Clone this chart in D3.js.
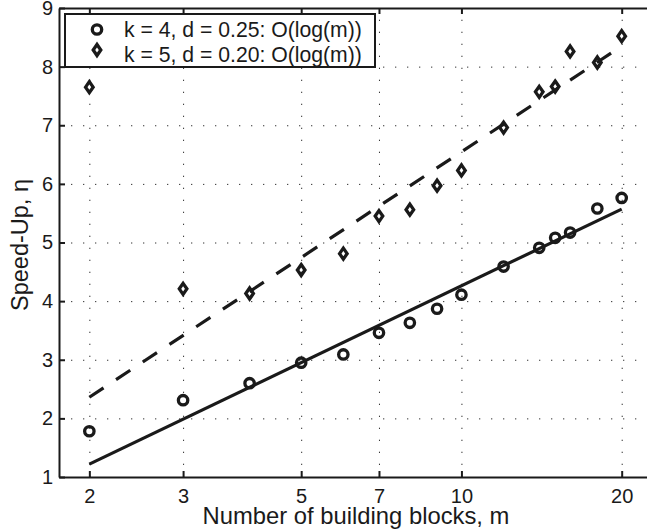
<!DOCTYPE html>
<html>
<head>
<meta charset="utf-8">
<script src="https://cdn.jsdelivr.net/npm/d3@7"></script>
<style>
  body { margin: 0; background: #fff; }
  svg { display: block; font-family: "Liberation Sans", Arial, Helvetica, sans-serif; }
  .grid line { stroke: #333; stroke-width: 1; stroke-dasharray: 1.3,10.7; }
  .grid path { display: none; }
  .axis path, .axis line { stroke: #1a1a1a; stroke-width: 2; }
</style>
</head>
<body>
<div id="chart"></div>
<script>
// number of building blocks m
var blocks = [2, 3, 4, 5, 6, 7, 8, 9, 10, 12, 14, 15, 16, 18, 20];
// k = 4, d = 0.25
var speedK4 = [1.78, 2.31, 2.60, 2.95, 3.09, 3.46, 3.63, 3.87, 4.11, 4.59, 4.91, 5.08, 5.17, 5.58, 5.76];
// k = 5, d = 0.20
var speedK5 = [7.65, 4.21, 4.13, 4.53, 4.81, 5.45, 5.56, 5.97, 6.23, 6.96, 7.57, 7.66, 8.26, 8.07, 8.52];
// O(log(m)) fits, end points at m = 2 and m = 20
var fitBlocks = [2, 20];
var fitK4 = [1.22, 5.57];
var fitK5 = [2.36, 8.35];

var xTicks = [2, 3, 5, 7, 10, 20];
var yTicks = [1, 2, 3, 4, 5, 6, 7, 8, 9];
var legendLabels = ["k = 4, d = 0.25: O(log(m))", "k = 5, d = 0.20: O(log(m))"];

var margin = {top: 8, right: 0, bottom: 54, left: 59},
    width = 595,
    height = 531 - margin.top - margin.bottom;

var x = d3.scaleLog()
    .domain([1.754, 23])
    .range([0, width]);
var y = d3.scaleLinear()
    .domain([1, 9])
    .range([height, 0]);

var svg = d3.select("#chart").append("svg")
    .attr("width", 647)
    .attr("height", 531)
  .append("g")
    .attr("transform", "translate(" + margin.left + "," + margin.top + ")");

// dotted grid
svg.append("g")
    .attr("class", "grid")
    .attr("transform", "translate(0," + height + ")")
    .call(d3.axisBottom(x).tickValues(xTicks).tickSize(-height).tickFormat(""));
svg.append("g")
    .attr("class", "grid")
    .call(d3.axisLeft(y).tickValues(yTicks).tickSize(-width).tickFormat(""));

// axes, ticks pointing inward
svg.append("g")
    .attr("class", "axis")
    .attr("transform", "translate(0," + height + ")")
    .call(d3.axisBottom(x).tickValues(xTicks).tickFormat(d3.format("d"))
      .tickSizeInner(-6).tickSizeOuter(0).tickPadding(12));
svg.append("g")
    .attr("class", "axis")
    .call(d3.axisTop(x).tickValues(xTicks).tickFormat("")
      .tickSizeInner(-6).tickSizeOuter(0));
svg.append("g")
    .attr("class", "axis")
    .call(d3.axisLeft(y).tickValues(yTicks).tickFormat(d3.format("d"))
      .tickSizeInner(-6).tickSizeOuter(0).tickPadding(6));

svg.selectAll(".axis")
    .attr("font-family", null)
    .attr("font-size", "20px");
svg.selectAll(".axis text").attr("fill", "#1a1a1a");

// fit lines
var line = d3.line()
    .x(function(d) { return x(d[0]); })
    .y(function(d) { return y(d[1]); });

svg.append("path")
    .datum(d3.zip(fitBlocks, fitK4))
    .attr("d", line)
    .attr("fill", "none")
    .attr("stroke", "#1a1a1a")
    .attr("stroke-width", 3.2);

svg.append("path")
    .datum(d3.zip(fitBlocks, fitK5))
    .attr("d", line)
    .attr("fill", "none")
    .attr("stroke", "#1a1a1a")
    .attr("stroke-width", 3.2)
    .attr("stroke-dasharray", "17,15");

function diamond(cx, cy) {
  return "M" + cx + "," + (cy - 5.5) + "L" + (cx + 3.8) + "," + cy +
         "L" + cx + "," + (cy + 5.5) + "L" + (cx - 3.8) + "," + cy + "Z";
}

// markers
svg.selectAll(".ptK4")
    .data(d3.zip(blocks, speedK4))
  .enter().append("circle")
    .attr("class", "ptK4")
    .attr("cx", function(d) { return x(d[0]); })
    .attr("cy", function(d) { return y(d[1]); })
    .attr("r", 4.7)
    .attr("fill", "none")
    .attr("stroke", "#1a1a1a")
    .attr("stroke-width", 3.3);

svg.selectAll(".ptK5")
    .data(d3.zip(blocks, speedK5))
  .enter().append("path")
    .attr("class", "ptK5")
    .attr("d", function(d) { return diamond(x(d[0]), y(d[1])); })
    .attr("fill", "none")
    .attr("stroke", "#1a1a1a")
    .attr("stroke-width", 3.3)
    .attr("stroke-linejoin", "miter");

// legend
var legend = svg.append("g")
    .attr("transform", "translate(6,6)");

legend.append("rect")
    .attr("width", 310)
    .attr("height", 53)
    .attr("fill", "#fff")
    .attr("stroke", "#1a1a1a")
    .attr("stroke-width", 2);

legend.append("circle")
    .attr("cx", 32)
    .attr("cy", 15.5)
    .attr("r", 4.7)
    .attr("fill", "none")
    .attr("stroke", "#1a1a1a")
    .attr("stroke-width", 3.3);

legend.append("path")
    .attr("d", diamond(32, 36))
    .attr("fill", "none")
    .attr("stroke", "#1a1a1a")
    .attr("stroke-width", 3.3);

legend.selectAll(".legText")
    .data(legendLabels)
  .enter().append("text")
    .attr("class", "legText")
    .attr("x", 59)
    .attr("y", function(d, i) { return 22.5 + i * 25; })
    .attr("font-size", "21.2px")
    .attr("fill", "#1a1a1a")
    .text(function(d) { return d; });

// axis labels
svg.append("text")
    .attr("x", 297)
    .attr("y", height + 47)
    .attr("text-anchor", "middle")
    .attr("font-size", "23.8px")
    .attr("fill", "#1a1a1a")
    .text("Number of building blocks, m");

svg.append("text")
    .attr("transform", "translate(" + (-31) + "," + (237) + ") rotate(-90)")
    .attr("text-anchor", "middle")
    .attr("font-size", "23.5px")
    .attr("fill", "#1a1a1a")
    .text("Speed-Up, \u03b7");
</script>
</body>
</html>
